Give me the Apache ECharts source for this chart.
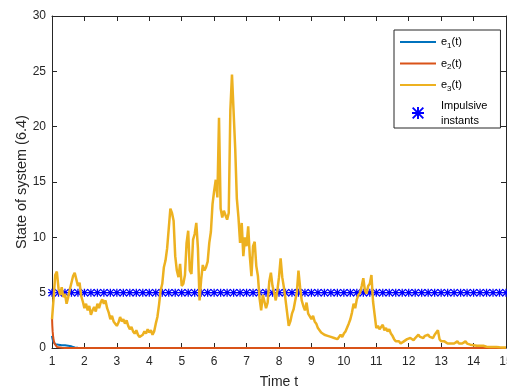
<!DOCTYPE html>
<html>
<head>
<meta charset="utf-8">
<script src="https://cdn.jsdelivr.net/npm/echarts@6/dist/echarts.min.js"></script>
<style>
  html, body { margin: 0; padding: 0; background: #fff; }
  #chart { width: 507px; height: 386px; }
</style>
</head>
<body>
<div id="chart"></div>
<script>
    // sampling grid of the simulated states
    let tStart = 1;
    let tStep = 0.05;

    // e1, e2 decay fast, so they have their own (finer) time points
    let t12 = [1, 1.01, 1.02, 1.04, 1.06, 1.08, 1.1, 1.15, 1.2, 1.3, 1.4, 1.5, 1.6, 1.7, 1.8, 2, 15];
    let e1 = [1.1, 0.9, 0.75, 0.55, 0.45, 0.4, 0.35, 0.3, 0.3, 0.25, 0.25, 0.2, 0.15, 0.05, 0.02, 0, 0];
    let e2 = [2.8, 2.0, 1.5, 0.9, 0.6, 0.4, 0.25, 0.1, 0.05, 0.02, 0, 0, 0, 0, 0, 0, 0];

    // e3 every 0.05 from t=1 to t=15, one row per unit of time
    let e3 = [
        2.6, 4.5, 6.6, 6.9, 5.4, 4.8, 5.5, 4.6, 4.9, 4.0, 4.6, 5.3, 5.9, 6.5, 6.8, 6.2, 5.6, 5.9, 4.7, 4.2,
        3.6, 4.0, 3.4, 3.8, 3.0, 3.4, 3.7, 3.3, 4.0, 3.6, 4.1, 4.4, 4.0, 4.3, 3.6, 3.2, 2.6, 2.9, 2.4, 2.2,
        2.0, 2.3, 2.8, 2.4, 2.6, 2.2, 2.5, 2.0, 1.7, 1.9, 1.5, 1.3, 1.6, 1.2, 1.0, 0.9, 1.2, 1.5, 1.3, 1.7,
        1.4, 1.6, 1.2, 1.5, 2.2, 2.8, 3.9, 5.2, 5.8, 7.3, 7.9, 9.0, 10.8, 12.6, 12.2, 11.5, 8.3, 7.0, 6.4, 7.6,
        5.6, 5.8, 6.6, 9.5, 10.6, 7.0, 6.7, 9.8, 10.3, 11.3, 9.0, 4.3, 6.2, 7.5, 7.0, 7.3, 7.8, 9.5, 10.5, 13.0,
        14.2, 15.2, 13.6, 20.8, 12.6, 11.8, 12.4, 12.0, 11.6, 12.2, 21.5, 24.7, 24.6, 18.0, 13.5, 11.8, 9.5, 11.3, 8.3, 10.0,
        9.2, 11.0, 8.3, 6.5, 9.2, 9.6, 7.4, 6.5, 4.5, 3.4, 4.8, 4.2, 3.6, 4.1, 6.0, 6.8, 5.6, 5.0, 4.3, 5.2,
        6.4, 8.1, 6.4, 5.5, 4.4, 3.2, 2.0, 2.4, 3.1, 3.5, 4.3, 5.0, 7.0, 5.5, 4.3, 3.8, 3.4, 4.1, 3.1, 3.0,
        2.6, 2.9, 2.4, 2.2, 1.8, 1.6, 1.4, 1.5, 1.2, 1.3, 1.1, 1.2, 1.0, 1.1, 0.9, 1.0, 0.8, 1.0, 1.2, 1.0,
        1.3, 1.5, 1.6, 2.2, 2.6, 3.2, 4.0, 3.6, 4.4, 4.8, 5.0, 5.6, 6.3, 5.2, 4.9, 5.6, 5.8, 6.6, 4.2, 3.0,
        1.8, 2.0, 1.7, 1.9, 2.1, 1.6, 1.8, 1.5, 1.7, 1.3, 1.1, 0.8, 0.6, 0.5, 0.6, 0.4, 0.5, 0.6, 0.5, 0.8,
        0.7, 0.9, 0.8, 0.7, 0.9, 1.0, 1.2, 1.0, 1.1, 0.9, 1.1, 1.0, 1.2, 1.0, 1.1, 0.9, 1.2, 1.3, 1.6, 0.8,
        0.6, 0.5, 0.6, 0.5, 0.4, 0.5, 0.4, 0.5, 0.4, 0.5, 0.6, 0.4, 0.3, 0.4, 0.5, 0.6, 0.4, 0.3, 0.3, 0.2,
        0.25, 0.3, 0.2, 0.25, 0.2, 0.15, 0.2, 0.15, 0.12, 0.15, 0.1, 0.12, 0.1, 0.08, 0.1, 0.08, 0.06, 0.08, 0.05, 0.06,
        0.05
    ];

    // impulsive instants t_k, all drawn at level 5
    let impulseTimes = [
        1, 1.2, 1.4, 1.6, 1.8, 2, 2.2, 2.4, 2.6, 2.8, 3, 3.2, 3.4, 3.6, 3.8, 4, 4.2, 4.4, 4.6, 4.8,
        5, 5.2, 5.4, 5.6, 5.8, 6, 6.2, 6.4, 6.6, 6.8, 7, 7.2, 7.4, 7.6, 7.8, 8, 8.2, 8.4, 8.6, 8.8,
        9, 9.2, 9.4, 9.6, 9.8, 10, 10.2, 10.4, 10.6, 10.8, 11, 11.2, 11.4, 11.6, 11.8, 12, 12.2, 12.4, 12.6, 12.8,
        13, 13.2, 13.4, 13.6, 13.8, 14, 14.2, 14.4, 14.6, 14.8, 15
    ];
    let impulseLevel = 5;

    let xTicks = [1, 15, 1];   // min, max, interval
    let yTicks = [0, 30, 5];

    // matlab-ish look
    let axisColor = '#262626';
    let font = 'Liberation Sans, Arial, Helvetica, sans-serif';
    let star = 'path://M4.2,0H5.8V10H4.2Z M0,4.2H10V5.8H0Z M1.1,0L10,8.9L8.9,10L0,1.1Z M8.9,0L10,1.1L1.1,10L0,8.9Z';

    let chart = echarts.init(document.getElementById('chart'));

    function pairs(xs, ys) {
        return ys.map((y, i) => [xs[i], y]);
    }

    let e3Data = e3.map((v, i) => [tStart + i * tStep, v]);
    let impulseData = impulseTimes.map(t => [t, impulseLevel]);

    function axisX(pos, showLabel) {
        return {
            type: 'value',
            position: pos,
            min: xTicks[0], max: xTicks[1], interval: xTicks[2],
            axisLine: { show: true, onZero: false, lineStyle: { color: axisColor, width: 1 } },
            axisTick: { show: true, inside: true, length: 5, lineStyle: { color: axisColor } },
            axisLabel: { show: showLabel, color: axisColor, fontSize: 12, fontFamily: font, margin: 8 },
            splitLine: { show: false }
        };
    }

    function axisY(pos, showLabel) {
        return {
            type: 'value',
            position: pos,
            min: yTicks[0], max: yTicks[1], interval: yTicks[2],
            axisLine: { show: true, onZero: false, lineStyle: { color: axisColor, width: 1 } },
            axisTick: { show: true, inside: true, length: 5, lineStyle: { color: axisColor } },
            axisLabel: { show: showLabel, color: axisColor, fontSize: 12, fontFamily: font, margin: 6 },
            splitLine: { show: false }
        };
    }

    let xBottom = axisX('bottom', true);
    xBottom.name = 'Time t';
    xBottom.nameLocation = 'middle';
    xBottom.nameGap = 27;
    xBottom.nameTextStyle = { color: axisColor, fontSize: 14, fontFamily: font };

    let yLeft = axisY('left', true);
    yLeft.name = 'State of system (6.4)';
    yLeft.nameLocation = 'middle';
    yLeft.nameGap = 23;
    yLeft.nameMoveOverlap = false;
    yLeft.nameTextStyle = { color: axisColor, fontSize: 14.5, fontFamily: font };

    // legend lines only, no marker in the middle
    let lineItem = name => ({ name: name, itemStyle: { opacity: 0 } });

    let option = {
        animation: false,
        backgroundColor: '#fff',
        grid: { left: 52, right: 1, top: 16, bottom: 38, outerBoundsMode: 'none', containLabel: false },
        xAxis: [xBottom, axisX('top', false)],
        yAxis: [yLeft, axisY('right', false)],
        legend: {
            orient: 'vertical',
            left: 394,
            top: 30,
            padding: [3.5, 13, 0, 5],
            itemGap: 4.5,
            itemWidth: 36,
            itemHeight: 12,
            borderColor: axisColor,
            borderWidth: 1,
            backgroundColor: '#fff',
            textStyle: {
                color: '#000', fontSize: 11, fontFamily: font, lineHeight: 17,
                rich: { s: { fontSize: 8, fontFamily: font, padding: [7, 0, 0, 0] } }
            },
            formatter: function (name) {
                if (name === 'Impulsive instants') {
                    return 'Impulsive\ninstants';
                }
                return 'e{s|' + name.charAt(1) + '}(t)';
            },
            data: [
                lineItem('e1(t)'), lineItem('e2(t)'), lineItem('e3(t)'),
                { name: 'Impulsive instants', textStyle: { lineHeight: 15 } }
            ]
        },
        series: [
            {
                name: 'e1(t)', type: 'line', symbol: 'none', clip: false,
                data: pairs(t12, e1),
                lineStyle: { color: '#0072BD', width: 2 }, itemStyle: { color: '#0072BD' }
            },
            {
                name: 'e2(t)', type: 'line', symbol: 'none', clip: false,
                data: pairs(t12, e2),
                lineStyle: { color: '#D95319', width: 2 }, itemStyle: { color: '#D95319' }
            },
            {
                name: 'e3(t)', type: 'line', symbol: 'none', clip: false,
                data: e3Data,
                lineStyle: { color: '#EDB120', width: 2.5 }, itemStyle: { color: '#EDB120' }
            },
            {
                name: 'Impulsive instants', type: 'scatter', symbol: star, symbolSize: 8,
                data: impulseData,
                itemStyle: { color: '#0000FF', opacity: 1 }
            }
        ]
    };

    chart.setOption(option);
</script>
</body>
</html>
